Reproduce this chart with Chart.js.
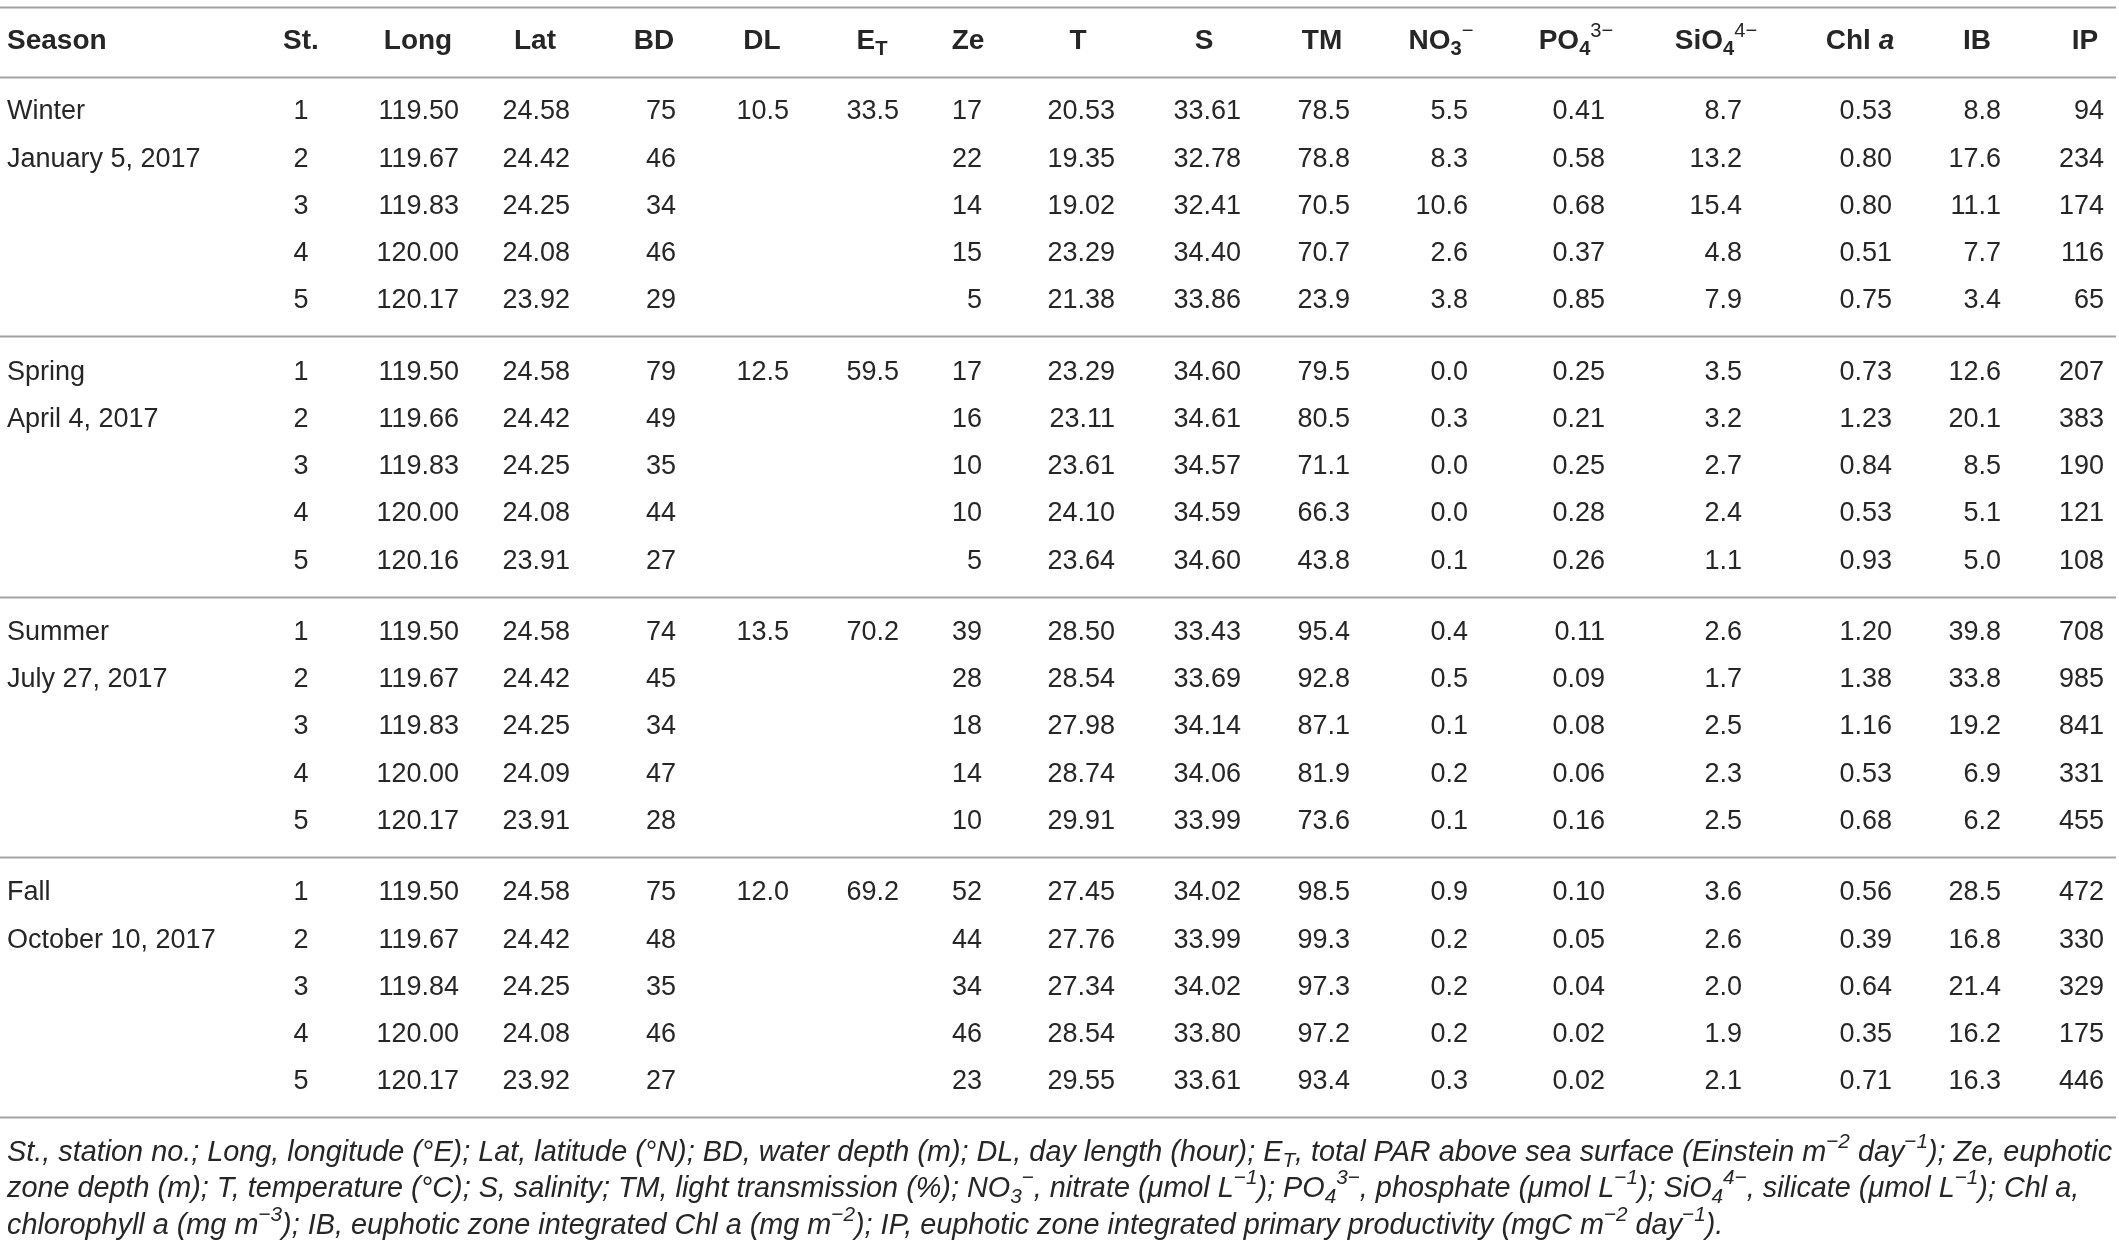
<!DOCTYPE html>
<html>
<head>
<meta charset="utf-8">
<script src="https://cdn.jsdelivr.net/npm/chart.js@4.4.0/dist/chart.umd.min.js"></script>
<style>
  html, body { margin: 0; padding: 0; background: #fff; }
  #wrap { width: 2119px; height: 1247px; position: relative; }
</style>
</head>
<body>
<div id="wrap"><canvas id="tableChart"></canvas></div>
<script>
const seasons = ['Winter', 'Spring', 'Summer', 'Fall'];
const sampleDates = ['January 5, 2017', 'April 4, 2017', 'July 27, 2017', 'October 10, 2017'];
const stations = [1, 2, 3, 4, 5];
const headers = ['Season', 'St.', 'Long', 'Lat', 'BD', 'DL', 'E_{T}', 'Ze', 'T', 'S', 'TM',
  'NO_{3}^{−}', 'PO_{4}^{3−}', 'SiO_{4}^{4−}', 'Chl *a*', 'IB', 'IP'];

const longitude = [119.50, 119.67, 119.83, 120.00, 120.17, 119.50, 119.66, 119.83, 120.00, 120.16,
  119.50, 119.67, 119.83, 120.00, 120.17, 119.50, 119.67, 119.84, 120.00, 120.17];
const latitude = [24.58, 24.42, 24.25, 24.08, 23.92, 24.58, 24.42, 24.25, 24.08, 23.91,
  24.58, 24.42, 24.25, 24.09, 23.91, 24.58, 24.42, 24.25, 24.08, 23.92];
const bottomDepth = [75, 46, 34, 46, 29, 79, 49, 35, 44, 27, 74, 45, 34, 47, 28, 75, 48, 35, 46, 27];
const dayLength = [10.5, 12.5, 13.5, 12.0];
const totalPar = [33.5, 59.5, 70.2, 69.2];
const euphoticDepth = [17, 22, 14, 15, 5, 17, 16, 10, 10, 5, 39, 28, 18, 14, 10, 52, 44, 34, 46, 23];
const temperature = [20.53, 19.35, 19.02, 23.29, 21.38, 23.29, 23.11, 23.61, 24.10, 23.64,
  28.50, 28.54, 27.98, 28.74, 29.91, 27.45, 27.76, 27.34, 28.54, 29.55];
const salinity = [33.61, 32.78, 32.41, 34.40, 33.86, 34.60, 34.61, 34.57, 34.59, 34.60,
  33.43, 33.69, 34.14, 34.06, 33.99, 34.02, 33.99, 34.02, 33.80, 33.61];
const transmission = [78.5, 78.8, 70.5, 70.7, 23.9, 79.5, 80.5, 71.1, 66.3, 43.8,
  95.4, 92.8, 87.1, 81.9, 73.6, 98.5, 99.3, 97.3, 97.2, 93.4];
const nitrate = [5.5, 8.3, 10.6, 2.6, 3.8, 0.0, 0.3, 0.0, 0.0, 0.1, 0.4, 0.5, 0.1, 0.2, 0.1, 0.9, 0.2, 0.2, 0.2, 0.3];
const phosphate = [0.41, 0.58, 0.68, 0.37, 0.85, 0.25, 0.21, 0.25, 0.28, 0.26,
  0.11, 0.09, 0.08, 0.06, 0.16, 0.10, 0.05, 0.04, 0.02, 0.02];
const silicate = [8.7, 13.2, 15.4, 4.8, 7.9, 3.5, 3.2, 2.7, 2.4, 1.1, 2.6, 1.7, 2.5, 2.3, 2.5, 3.6, 2.6, 2.0, 1.9, 2.1];
const chlA = [0.53, 0.80, 0.80, 0.51, 0.75, 0.73, 1.23, 0.84, 0.53, 0.93,
  1.20, 1.38, 1.16, 0.53, 0.68, 0.56, 0.39, 0.64, 0.35, 0.71];
const intChl = [8.8, 17.6, 11.1, 7.7, 3.4, 12.6, 20.1, 8.5, 5.1, 5.0, 39.8, 33.8, 19.2, 6.9, 6.2, 28.5, 16.8, 21.4, 16.2, 16.3];
const intPP = [94, 234, 174, 116, 65, 207, 383, 190, 121, 108, 708, 985, 841, 331, 455, 472, 330, 329, 175, 446];

const footnote = [
  'St., station no.; Long, longitude (°E); Lat, latitude (°N); BD, water depth (m); DL, day length (hour); E_{T}, total PAR above sea surface (Einstein m^{−2} day^{−1}); Ze, euphotic',
  'zone depth (m); T, temperature (°C); S, salinity; TM, light transmission (%); NO_{3}^{−}, nitrate (μmol L^{−1}); PO_{4}^{3−}, phosphate (μmol L^{−1}); SiO_{4}^{4−}, silicate (μmol L^{−1}); Chl a,',
  'chlorophyll a (mg m^{−3}); IB, euphotic zone integrated Chl a (mg m^{−2}); IP, euphotic zone integrated primary productivity (mgC m^{−2} day^{−1}).'
];

// ---- layout ----
const FAMILY = '"Liberation Sans", Arial, Helvetica, sans-serif';
const TEXT = '#262626';
const RULE = '#a3a3a3';
const BODY_SIZE = 27;
const HEAD_SIZE = 28;
const BLOCK = 5.515;              // rows per season block (5 rows + gap)
const HEADER_ROW = -1.5;
const RULE_ROWS = [-2.22, -0.74, 4.75, 4.75 + BLOCK, 4.75 + 2 * BLOCK, 4.75 + 3 * BLOCK];
const FOOT_ROWS = [22.05, 22.82, 23.6];
const SEASON_X = 7;
const headerX = [7, 301, 418, 535, 654, 762, 872, 968, 1078, 1204, 1322, 1441, 1576, 1716, 1860, 1977, 2085];

// numeric columns: values, decimals, right edge
const numericCols = [
  { vals: longitude, dec: 2, right: 459 },
  { vals: latitude, dec: 2, right: 570 },
  { vals: bottomDepth, dec: 0, right: 676 },
  { vals: euphoticDepth, dec: 0, right: 982 },
  { vals: temperature, dec: 2, right: 1115 },
  { vals: salinity, dec: 2, right: 1241 },
  { vals: transmission, dec: 1, right: 1350 },
  { vals: nitrate, dec: 1, right: 1468 },
  { vals: phosphate, dec: 2, right: 1605 },
  { vals: silicate, dec: 1, right: 1742 },
  { vals: chlA, dec: 2, right: 1892 },
  { vals: intChl, dec: 1, right: 2001 },
  { vals: intPP, dec: 0, right: 2104 }
];

function rowValue(i) {
  return Math.floor(i / 5) * BLOCK + (i % 5);
}

// ---- build datasets (invisible points, labelled by plugin) ----
const datasets = [];
numericCols.forEach(c => {
  datasets.push({
    data: c.vals.map((v, i) => ({ x: c.right, y: rowValue(i) })),
    texts: c.vals.map(v => v.toFixed(c.dec)),
    align: 'right'
  });
});
datasets.push({
  data: seasons.flatMap((s, b) => stations.map((n, r) => ({ x: headerX[1], y: b * BLOCK + r }))),
  texts: seasons.flatMap(() => stations.map(String)),
  align: 'center'
});
datasets.push({
  data: seasons.flatMap((s, b) => [{ x: SEASON_X, y: b * BLOCK }, { x: SEASON_X, y: b * BLOCK + 1 }]),
  texts: seasons.flatMap((s, b) => [s, sampleDates[b]]),
  align: 'left'
});
datasets.push({
  data: seasons.map((s, b) => ({ x: 789, y: b * BLOCK })),
  texts: dayLength.map(v => v.toFixed(1)),
  align: 'right'
});
datasets.push({
  data: seasons.map((s, b) => ({ x: 899, y: b * BLOCK })),
  texts: totalPar.map(v => v.toFixed(1)),
  align: 'right'
});
datasets.push({
  data: headers.map((h, i) => ({ x: headerX[i], y: HEADER_ROW })),
  texts: headers,
  align: headers.map((h, i) => i === 0 ? 'left' : 'center'),
  weight: 'bold',
  size: HEAD_SIZE
});
datasets.push({
  data: footnote.map((f, i) => ({ x: SEASON_X, y: FOOT_ROWS[i] })),
  texts: footnote,
  align: 'left',
  italic: true,
  fit: 2106
});
datasets.forEach(d => { d.pointRadius = 0; d.pointHoverRadius = 0; d.showLine = false; });

// ---- rich text: _{sub}, ^{sup}, *italic* ----
function parseRich(str) {
  return str.split(/(_\{[^}]*\}|\^\{[^}]*\}|\*[^*]*\*)/).filter(s => s.length).map(s => {
    if (s.startsWith('_{')) return { t: s.slice(2, -1), k: 'sub' };
    if (s.startsWith('^{')) return { t: s.slice(2, -1), k: 'sup' };
    if (s.startsWith('*')) return { t: s.slice(1, -1), k: 'i' };
    return { t: s, k: '' };
  });
}

function richParts(ctx, str, size, weight, italic) {
  return parseRich(str).map(p => {
    const small = p.k === 'sub' || p.k === 'sup';
    const fs = small ? size * 0.72 : size;
    const it = italic || p.k === 'i';
    const w = p.k === 'sup' ? 'normal' : weight;
    const font = (it ? 'italic ' : '') + w + ' ' + fs + 'px ' + FAMILY;
    ctx.font = font;
    return { t: p.t, font, w: ctx.measureText(p.t).width,
      dy: p.k === 'sub' ? size * 0.28 : (p.k === 'sup' ? -size * 0.36 : 0) };
  });
}

function drawRich(ctx, str, x, y, align, size, weight, italic) {
  const parts = richParts(ctx, str, size, weight, italic);
  const total = parts.reduce((a, p) => a + p.w, 0);
  let cx = align === 'right' ? x - total : (align === 'center' ? x - total / 2 : x);
  parts.forEach(p => {
    ctx.font = p.font;
    ctx.fillText(p.t, cx, y + p.dy);
    cx += p.w;
  });
}

const tablePlugin = {
  id: 'tableText',
  beforeDatasetsDraw(chart) {
    const ctx = chart.ctx;
    const xs = chart.scales.x, ys = chart.scales.y;
    ctx.save();
    ctx.strokeStyle = RULE;
    ctx.lineWidth = 2;
    RULE_ROWS.forEach(r => {
      const y = Math.round(ys.getPixelForValue(r)) + 0.5;
      ctx.beginPath();
      ctx.moveTo(xs.getPixelForValue(0), y);
      ctx.lineTo(xs.getPixelForValue(2116), y);
      ctx.stroke();
    });
    ctx.restore();
  },
  afterDatasetsDraw(chart) {
    const ctx = chart.ctx;
    ctx.save();
    ctx.fillStyle = TEXT;
    ctx.textBaseline = 'middle';
    ctx.textAlign = 'left';
    chart.data.datasets.forEach((ds, i) => {
      const meta = chart.getDatasetMeta(i);
      let size = ds.size || BODY_SIZE;
      const weight = ds.weight || 'normal';
      if (ds.fit) {
        const w = richParts(ctx, ds.texts[0], 100, weight, ds.italic).reduce((a, p) => a + p.w, 0);
        size = 100 * ds.fit / w;
      }
      meta.data.forEach((pt, j) => {
        const al = Array.isArray(ds.align) ? ds.align[j] : ds.align;
        drawRich(ctx, ds.texts[j], pt.x, pt.y, al, size, weight, ds.italic);
      });
    });
    ctx.restore();
  }
};

const ROW_PX = 47.2, FIRST_ROW_PX = 112, H = 1247;
new Chart(document.getElementById('tableChart'), {
  type: 'scatter',
  data: { datasets },
  options: {
    responsive: true,
    maintainAspectRatio: false,
    animation: false,
    devicePixelRatio: 1,
    layout: { padding: 0 },
    events: [],
    plugins: { legend: { display: false }, tooltip: { enabled: false } },
    scales: {
      x: { type: 'linear', display: false, min: 0, max: 2119 },
      y: { type: 'linear', display: false, reverse: true,
           min: -FIRST_ROW_PX / ROW_PX, max: (H - FIRST_ROW_PX) / ROW_PX }
    }
  },
  plugins: [tablePlugin]
});
</script>
</body>
</html>
